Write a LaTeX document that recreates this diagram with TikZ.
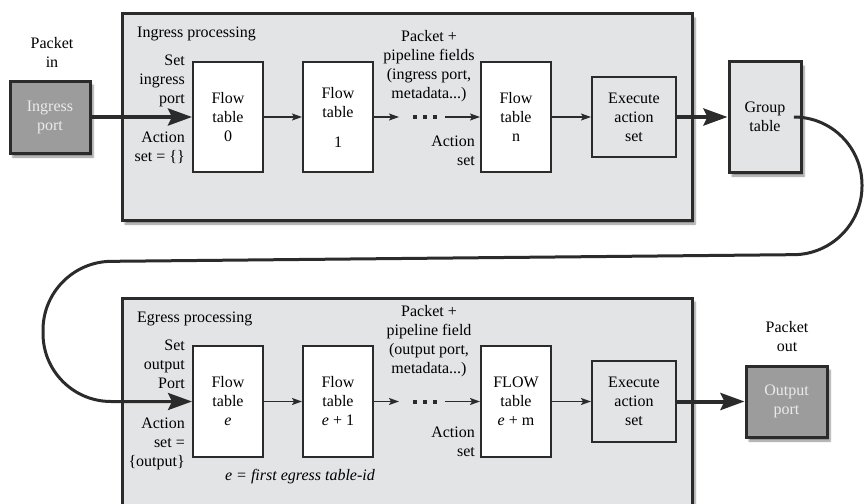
\documentclass[tikz,border=0pt]{standalone}
\usepackage{fontspec}
\setmainfont{Liberation Serif}
\usetikzlibrary{arrows.meta,shadows.blur}
\definecolor{panel}{HTML}{E3E4E6}
\definecolor{edge}{HTML}{2B2B2B}
\definecolor{portfill}{HTML}{9C9C9C}
\definecolor{porttext}{HTML}{EBEBEB}
\begin{document}
\begin{tikzpicture}[x=1pt,y=-1pt,
  every node/.style={font=\fontsize{16}{19}\selectfont, text=black},
  panelbox/.style={draw=edge, line width=3pt, fill=panel,
     blur shadow={shadow xshift=3pt, shadow yshift=-4pt, shadow blur steps=6, shadow opacity=45}},
  flowbox/.style={draw=edge, line width=2pt, fill=white, minimum width=70pt, minimum height=110pt, align=center, inner sep=0pt},
  execbox/.style={draw=edge, line width=2pt, fill=panel, minimum width=84pt, minimum height=80pt, align=center, inner sep=0pt},
  grpbox/.style={draw=edge, line width=3pt, fill=panel, minimum width=72pt, minimum height=110pt, align=center, inner sep=0pt,
     blur shadow={shadow xshift=3pt, shadow yshift=-4pt, shadow blur steps=6, shadow opacity=45}},
  portbox/.style={draw=edge, line width=3pt, fill=portfill, text=porttext, minimum width=80pt, minimum height=72pt, align=center, inner sep=0pt,
     blur shadow={shadow xshift=3pt, shadow yshift=-4pt, shadow blur steps=6, shadow opacity=45}},
  lbl/.style={inner sep=0pt, align=center},
  rlbl/.style={inner sep=0pt, align=right, anchor=east},
  thick arrow/.style={line width=4pt, draw=edge, -{Stealth[length=24pt,width=17pt,inset=4pt]}},
  thin arrow/.style={line width=1.5pt, draw=edge, -{Stealth[length=10pt,width=7pt,inset=2pt]}},
  loopline/.style={line width=3pt, draw=edge, rounded corners=68pt, -{Stealth[length=24pt,width=17pt,inset=4pt]}},
  dotrow/.style={line width=4pt, draw=edge, dash pattern=on 4pt off 6pt}
]
\useasboundingbox (0,0) rectangle (864,503);
\clip (0,0) rectangle (864,503);

% panels
\node[panelbox, minimum width=570pt, minimum height=206pt, inner sep=0pt] (ing) at (407,117) {};
\node[panelbox, minimum width=570pt, minimum height=230pt, inner sep=0pt] (egr) at (407,413) {};

\node[anchor=west, inner sep=0pt] (ingt) at (137,34) {Ingress processing};
\node[anchor=west, inner sep=0pt] (egrt) at (137,319) {Egress processing};

% ingress row
\node[portbox] (inport) at (50,117) {Ingress\\port};
\node[lbl] (pin) at (52,52) {Packet\\in};
\node[flowbox] (f0) at (228,117) {Flow\\table\\0};
\node[flowbox] (f1) at (338,117) {Flow\\table\\[11pt]1};
\node[flowbox] (fn) at (516,117) {Flow\\table\\n};
\node[execbox] (ex1) at (634,117) {Execute\\action\\set};
\node[grpbox] (grp) at (765,117) {Group\\table};

\node[rlbl] (setin) at (185,81) {Set\\ingress\\port};
\node[rlbl] (actin) at (185,147.5) {Action\\set = \{\}};
\node[lbl] (pipe1) at (429,66) {Packet +\\pipeline fields\\(ingress port,\\metadata...)};
\node[rlbl] (act1) at (475,151) {Action\\set};

\coordinate (d1) at (399,117);
\coordinate (d2) at (445,117);
\draw[thick arrow] (inport) -- (f0);
\draw[thin arrow] (f0) -- (f1);
\draw[thin arrow] (f1) -- (d1);
\draw[dotrow] (413,117) -- (437,117);
\draw[thin arrow] (d2) -- (fn);
\draw[thin arrow] (fn) -- (ex1);
\draw[thick arrow] (ex1) -- (grp);

% egress row
\node[flowbox, minimum height=111pt] (fe) at (228,401.5) {Flow\\table\\\textit{e}};
\node[flowbox, minimum height=111pt] (fe1) at (338,401.5) {Flow\\table\\\textit{e} + 1};
\node[flowbox, minimum height=111pt] (fem) at (516,401.5) {FLOW\\table\\\textit{e} + m};
\node[execbox, minimum height=81pt] (ex2) at (634,401.5) {Execute\\action\\set};
\node[portbox, minimum width=81pt, minimum height=71pt] (outport) at (786.5,401.5) {Output\\port};
\node[lbl] (pout) at (787,337) {Packet\\out};

\node[rlbl] (setout) at (185,364) {Set\\output\\Port};
\node[rlbl] (actout) at (185,444) {Action\\set =\\\{output\}};
\node[lbl] (pipe2) at (429,341) {Packet +\\pipeline field\\(output port,\\metadata...)};
\node[rlbl] (act2) at (475,441.5) {Action\\set};
\node[lbl] (enote) at (300,477) {\textit{e = first egress table-id}};

\coordinate (e1) at (399,401.5);
\coordinate (e2) at (445,401.5);
\draw[thin arrow] (fe) -- (fe1);
\draw[thin arrow] (fe1) -- (e1);
\draw[dotrow] (413,401.5) -- (437,401.5);
\draw[thin arrow] (e2) -- (fem);
\draw[thin arrow] (fem) -- (ex2);
\draw[thick arrow] (ex2) -- (outport);

% loop from group table to egress flow table e
\draw[loopline] (grp.east) -- (862,117) -- (862,254) -- (43,262) -- (43,401.5) -- (fe.west);
\end{tikzpicture}
\end{document}
